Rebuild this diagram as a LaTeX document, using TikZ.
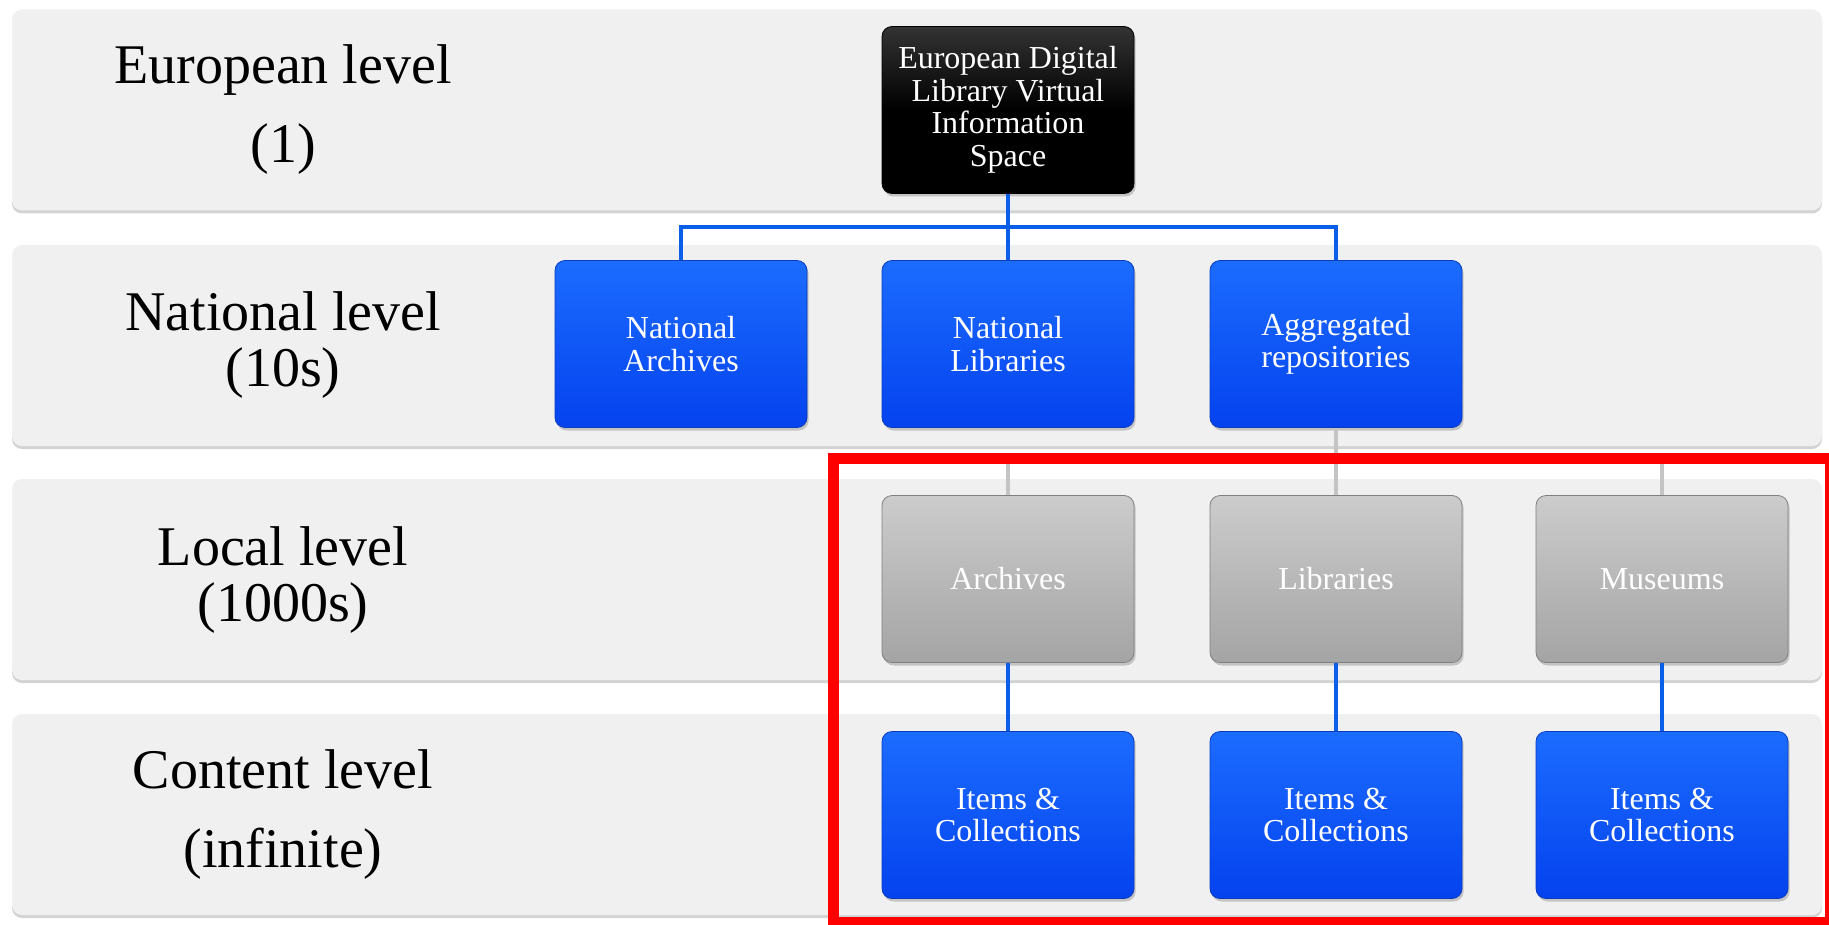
\documentclass[tikz,border=0pt]{standalone}
\usepackage{fontspec}
\setmainfont{Liberation Serif}
\usetikzlibrary{shadows}

\definecolor{bandgray}{RGB}{240,240,240}
\definecolor{boxbluetop}{RGB}{28,108,255}
\definecolor{boxbluebot}{RGB}{4,66,238}
\definecolor{boxblueedge}{RGB}{10,60,190}
\definecolor{boxgraytop}{RGB}{204,204,204}
\definecolor{boxgraybot}{RGB}{164,164,164}
\definecolor{linkblue}{RGB}{10,95,232}
\definecolor{linkgray}{RGB}{196,196,196}
\definecolor{markred}{RGB}{255,0,0}

\tikzset{
  band/.style={fill=bandgray, rounded corners=5pt, minimum width=905pt,
    minimum height=100.5pt, inner sep=0pt,
    drop shadow={shadow xshift=0pt, shadow yshift=-1.5pt, opacity=0.35}},
  lvllabel/.style={align=center, font=\fontsize{28}{28}\selectfont},
  orgbox/.style={rounded corners=5pt, minimum width=126pt, minimum height=83.5pt,
    inner sep=2pt, align=center, text=white, font=\fontsize{16}{16.3}\selectfont,
    drop shadow={shadow xshift=0.8pt, shadow yshift=-1.5pt, opacity=0.4}},
  bluebox/.style={orgbox, top color=boxbluetop, bottom color=boxbluebot, draw=boxblueedge, line width=0.4pt},
  graybox/.style={orgbox, top color=boxgraytop, bottom color=boxgraybot, draw=gray, line width=0.4pt},
  topbox/.style={orgbox, top color=black!80, bottom color=black, middle color=black, draw=black},
  bluelink/.style={draw=linkblue, line width=2pt},
  graylink/.style={draw=linkgray, line width=2pt}
}

\begin{document}
\begin{tikzpicture}[x=0.5pt,y=-0.5pt]
  \useasboundingbox (0,0) rectangle (1829,925);

  % level bands
  \node[band] (band1) at (917,110) {};
  \node[band] (band2) at (917,345.5) {};
  \node[band] (band3) at (917,579.5) {};
  \node[band] (band4) at (917,814.5) {};

  \node[lvllabel, font=\fontsize{28}{39.5}\selectfont] (lbl1) at (283,110) {European level\\(1)};
  \node[lvllabel] (lbl2) at (283,345) {National level\\(10s)};
  \node[lvllabel] (lbl3) at (283,580) {Local level\\(1000s)};
  \node[lvllabel, font=\fontsize{28}{39.5}\selectfont] (lbl4) at (283,815) {Content level\\(infinite)};

  % boxes
  \node[topbox] (eudl) at (1008,110) {European Digital\\Library Virtual\\Information\\Space};

  \node[bluebox] (natarch) at (681,344) {National\\Archives};
  \node[bluebox] (natlib) at (1008,344) {National\\Libraries};
  \node[bluebox] (aggrep) at (1336,344) {Aggregated\\repositories};

  \node[graybox] (arch) at (1008,579) {Archives};
  \node[graybox] (lib) at (1336,579) {Libraries};
  \node[graybox] (mus) at (1662,579) {Museums};

  \node[bluebox] (items1) at (1008,815) {Items \&\\Collections};
  \node[bluebox] (items2) at (1336,815) {Items \&\\Collections};
  \node[bluebox] (items3) at (1662,815) {Items \&\\Collections};

  % connectors
  \coordinate (bus) at (1008,227);
  \draw[bluelink] (eudl.south) -- (bus);
  \draw[bluelink] (bus) -| (natarch.north);
  \draw[bluelink] (bus) -- (natlib.north);
  \draw[bluelink] (bus) -| (aggrep.north);

  \coordinate (gbus) at (1336,460);
  \draw[graylink] (aggrep.south) -- (gbus);
  \draw[graylink] (gbus) -| (arch.north);
  \draw[graylink] (gbus) -- (lib.north);
  \draw[graylink] (gbus) -| (mus.north);

  \draw[bluelink] (arch.south) -- (items1.north);
  \draw[bluelink] (lib.south) -- (items2.north);
  \draw[bluelink] (mus.south) -- (items3.north);

  % highlight
  \draw[markred, line width=5.5pt] (833,458.5) rectangle (1830.5,922.5);
\end{tikzpicture}
\end{document}
